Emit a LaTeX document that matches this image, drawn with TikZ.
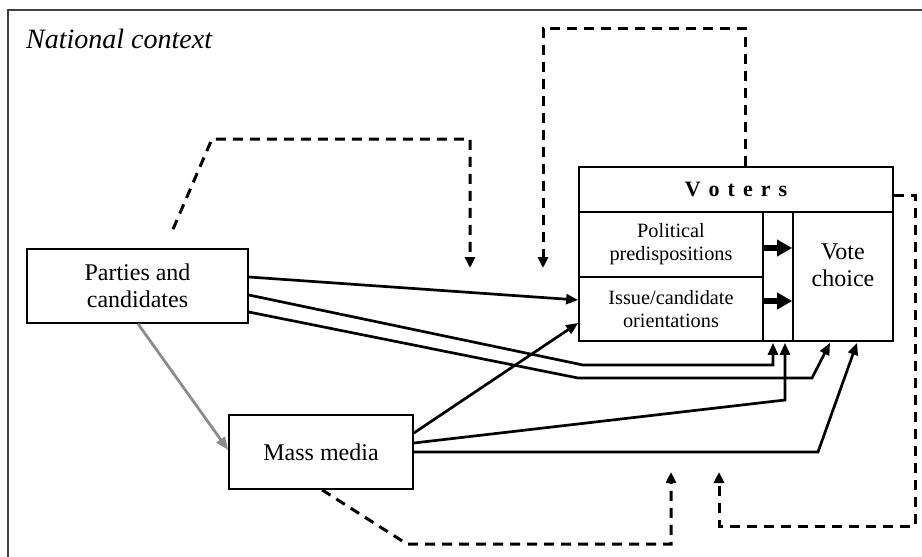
\documentclass[tikz,border=0pt]{standalone}
\usepackage{fontspec}
\setmainfont{Liberation Serif}
\usetikzlibrary{arrows.meta,calc}
\begin{document}
\begin{tikzpicture}[x=1pt,y=-1pt,
  box/.style={draw,line width=1.7pt,rectangle,inner sep=0pt,align=center,font=\fontsize{24}{27}\selectfont},
  smallbox/.style={box,font=\fontsize{20.3}{23}\selectfont},
  conn/.style={line width=2.7pt,-{Triangle[length=12pt,width=10pt]}},
  fb/.style={line width=3pt,dash pattern=on 10pt off 7pt,-{Triangle[length=11pt,width=10pt]}},
  inner/.style={line width=5.5pt,-{Triangle[length=15pt,width=16pt]}},
  grayarrow/.style={line width=2.8pt,draw=black!45,-{Triangle[length=13pt,width=10pt]}}]
\useasboundingbox (0,0) rectangle (922,557);
% frame (cropped)
\draw[line width=2.2pt,black!75] (8,557) -- (8,10) -- (922,10);
\node[anchor=base west,inner sep=0pt,font=\fontsize{28}{28}\selectfont\itshape] (ctx) at (26,48) {National context};

% nodes
\node[box,minimum width=221pt,minimum height=74pt] (parties) at (137.5,286) {Parties and\\candidates};
\node[box,minimum width=184pt,minimum height=74pt] (media) at (321,452) {Mass media};
\node[box,minimum width=314pt,minimum height=45pt,font=\fontsize{22}{22}\selectfont\bfseries] (voters) at (736,189.5) {V\hspace{8pt}o\hspace{8pt}t\hspace{8pt}e\hspace{8pt}r\hspace{8pt}s};
\node[smallbox,minimum width=184pt,minimum height=65pt] (political) at (671,244.5) {Political\\predispositions};
\node[smallbox,minimum width=184pt,minimum height=64pt] (issue) at (671,309) {Issue/candidate\\orientations};
\node[box,minimum width=30pt,minimum height=129pt] (gap) at (778,276.5) {};
\node[box,minimum width=100pt,minimum height=129pt] (vote) at (843,276.5) {};
\node[inner sep=0pt,align=center,font=\fontsize{24}{27}\selectfont] (votetext) at ([shift={(0,-11)}]vote.center) {Vote\\choice};

% inner arrows
\draw[inner] ([shift={(0,3.5)}]political.east) -- ([shift={(0,3.5)}]political.east -| vote.west);
\draw[inner] ([shift={(0,-8)}]issue.east) -- ([shift={(0,-8)}]issue.east -| vote.west);

% gray arrow
\draw[grayarrow] ([shift={(0.5,0)}]parties.south) -- ([shift={(0,-2)}]media.west);

% solid connectors from parties
\coordinate (b1) at (583,365);
\coordinate (b2) at (773,365);
\coordinate (c1) at (578,378);
\coordinate (c2) at (812,378);
\draw[conn] ([shift={(0,-9)}]parties.east) -- ([shift={(0,-9)}]issue.west);
\draw[conn] ([shift={(0,9)}]parties.east) -- (b1) -- (b2) -- ([shift={(-5,1)}]gap.south);
\draw[conn] ([shift={(0,26)}]parties.east) -- (c1) -- (c2) -- ([shift={(-13,1)}]vote.south);

% solid connectors from media
\coordinate (e1) at (785,400);
\coordinate (f1) at (818,452);
\draw[conn] ([shift={(0,-19)}]media.east) -- ([shift={(0,14)}]issue.west);
\draw[conn] ([shift={(0,-9)}]media.east) -- (e1) -- ([shift={(7,1)}]gap.south);
\draw[conn] (media.east) -- (f1) -- ([shift={(14,1)}]vote.south);

% dashed feedback paths
\coordinate (d1a) at (212,139);
\coordinate (d1b) at (470,139);
\coordinate (d1c) at (470,268);
\draw[fb] ([shift={(35.5,-19)}]parties.north) -- (d1a) -- (d1b) -- (d1c);

\coordinate (d2a) at (745,28);
\coordinate (d2b) at (543,28);
\coordinate (d2c) at (543,268);
\draw[fb] ([shift={(9,0)}]voters.north) -- (d2a) -- (d2b) -- (d2c);

\coordinate (d3a) at (915,195);
\coordinate (d3b) at (915,526);
\coordinate (d3c) at (719,526);
\coordinate (d3d) at (719,472);
\draw[fb] ([shift={(0,5.5)}]voters.east) -- (d3a) -- (d3b) -- (d3c) -- (d3d);

\coordinate (d4a) at (407,544);
\coordinate (d4b) at (671,544);
\coordinate (d4c) at (671,472);
\draw[fb] ([shift={(1,0)}]media.south) -- (d4a) -- (d4b) -- (d4c);
\end{tikzpicture}
\end{document}
